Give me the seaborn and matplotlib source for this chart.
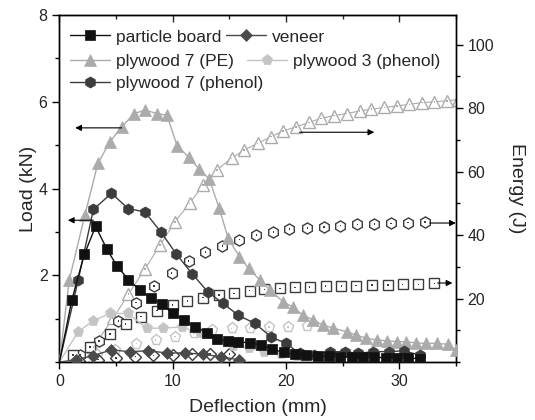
import numpy as np
import pandas as pd
import matplotlib
matplotlib.use("Agg")
import matplotlib.pyplot as plt
from matplotlib.ticker import MultipleLocator
from matplotlib.legend import Legend
import seaborn as sns

# ---------------- data ----------------
pb_x = [0, 1.1, 2.2, 3.2, 4.2, 5.1, 6.1, 7.1, 8.1, 9.1, 10.0, 11.0, 12.0, 13.0, 13.9, 14.9, 15.8, 16.8,
        17.8, 18.8, 19.8, 20.8, 21.8, 22.8, 23.8, 24.8, 25.8, 26.8, 27.8, 28.8, 29.8, 30.8, 31.8]
pb_load = [0, 1.43, 2.48, 3.13, 2.60, 2.21, 1.90, 1.66, 1.48, 1.34, 1.12, 0.97, 0.81, 0.68, 0.52, 0.49, 0.47,
           0.44, 0.40, 0.30, 0.22, 0.18, 0.16, 0.14, 0.13, 0.12, 0.12, 0.11, 0.11, 0.10, 0.10, 0.09, 0.08]

ven_x = [0, 1.5, 3.0, 4.6, 6.2, 7.8, 9.5, 11.1, 12.7, 14.3, 15.9]
ven_load = [0, 0.05, 0.15, 0.28, 0.24, 0.26, 0.21, 0.21, 0.18, 0.12, 0.05]

pe_x = [0, 0.87, 2.25, 3.4, 4.46, 5.5, 6.6, 7.6, 8.6, 9.5, 10.4, 11.4, 12.3, 13.2, 14.1, 14.9, 15.9, 16.7,
        17.7, 18.6, 19.75, 20.6, 21.5, 22.4, 23.3, 24.2, 25.35, 26.2, 27.1, 28.0, 28.9, 29.8, 30.6, 31.5,
        32.4, 33.3, 34.3, 35.0]
pe_load = [0, 1.89, 3.39, 4.58, 5.08, 5.42, 5.73, 5.81, 5.73, 5.69, 4.98, 4.73, 4.46, 4.23, 3.56, 2.85, 2.43,
           2.16, 1.89, 1.66, 1.39, 1.27, 1.08, 0.97, 0.85, 0.78, 0.70, 0.62, 0.55, 0.51, 0.49, 0.47, 0.47,
           0.44, 0.43, 0.43, 0.41, 0.28]

p3_x = [0, 1.66, 3.0, 4.46, 6.07, 7.7, 9.16, 10.8, 12.4, 13.9, 15.3, 16.7, 18.1, 19.6, 21.0]
p3_load = [0, 0.70, 0.95, 1.12, 1.12, 0.78, 0.78, 0.81, 0.66, 0.50, 0.38, 0.32, 0.24, 0.18, 0.12]

p7_x = [0, 1.66, 3.0, 4.6, 6.07, 7.55, 8.96, 10.3, 11.7, 13.1, 14.45, 15.8, 17.25, 18.7, 20.0, 21.2,
        22.5, 23.9, 25.2, 26.4, 27.7, 29.1, 30.4, 31.8]
p7_load = [0, 1.89, 3.52, 3.89, 3.54, 3.46, 3.0, 2.5, 2.04, 1.62, 1.35, 1.08, 0.89, 0.58, 0.43, 0.2,
           0.16, 0.24, 0.24, 0.2, 0.24, 0.24, 0.26, 0.16]

# energy curves (right axis)
pe_ex = [1.5, 3.0, 4.75, 6.1, 7.55, 8.9, 10.2, 11.5, 12.7, 13.9, 15.2, 16.3, 17.5, 18.7, 19.75, 20.9,
         22.05, 23.1, 24.25, 25.35, 26.5, 27.55, 28.7, 29.8, 30.9, 32.0, 33.1, 34.2, 35.2]
pe_energy = [0.5, 4.8, 13.8, 21.4, 29.3, 36.9, 44.2, 50, 55.8, 60.5, 64.2, 66.8, 68.9, 71, 72.8, 74.1,
             75.5, 76.8, 77.6, 78.3, 79.1, 79.7, 80.2, 80.7, 81.2, 81.7, 82.0, 82.3, 82.7]

p7_ex = [1.8, 3.5, 5.2, 6.75, 8.37, 9.9, 11.4, 12.9, 14.4, 15.9, 17.4, 18.9, 20.3, 21.9, 23.35, 24.8,
         26.3, 27.8, 29.3, 30.8, 32.3]
p7_energy = [2.2, 6.7, 13, 18.7, 23.9, 28.1, 31.8, 34.7, 36.6, 38.6, 40, 41, 41.9, 42.3, 42.6, 43,
             43.4, 43.5, 43.7, 43.9, 44.2]

pb_ex = [1.2, 2.7, 4.45, 5.85, 7.2, 8.6, 10.0, 11.3, 12.7, 14.1, 15.4, 16.8, 18.1, 19.5, 20.8, 22.1,
         23.5, 24.9, 26.2, 27.6, 29.0, 30.3, 31.7, 33.1]
pb_energy = [2.2, 4.8, 8.8, 12, 14.3, 16.2, 18, 19.2, 20.3, 21.1, 21.6, 22.5, 22.9, 23.2, 23.5, 23.7,
             23.9, 24, 24.1, 24.2, 24.2, 24.5, 24.5, 24.8]

p3_ex = [1.6, 3.3, 4.9, 6.8, 8.5, 10.2, 11.9, 13.5, 15.2, 16.8, 18.5, 20.2, 21.9]
p3_energy = [0.5, 2.2, 3.8, 5.8, 6.9, 8, 9, 10, 10.6, 10.8, 11.1, 11.1, 11.3]

ven_ex = [1.7, 3.4, 5.0, 6.7, 8.3, 10.0, 11.7, 13.3, 15.0]
ven_energy = [0.3, 0.8, 1.2, 1.7, 2.1, 2.2, 2.4, 2.5, 2.5]

labels = ["particle board", "veneer", "plywood 7 (PE)", "plywood 3 (phenol)", "plywood 7 (phenol)"]
x_ticks = [0, 10, 20, 30]
load_ticks = [2, 4, 6, 8]
energy_ticks = [20, 40, 60, 80, 100]

# ---------------- style ----------------
sns.set_style("ticks")
plt.rcParams["font.family"] = ["Liberation Sans", "DejaVu Sans"]
plt.rcParams["font.size"] = 11.5

fig = plt.figure(figsize=(5.35, 4.2), dpi=100)
ax = fig.add_axes([0.111, 0.138, 0.741, 0.826])
ax2 = ax.twinx()

c_pb, c_ven, c_pe, c_p3, c_p7 = "#111111", "#4a4a4a", "#ababab", "#c4c4c4", "#3c3c3c"

# energy (open markers) on right axis
def energy(xs, ys, marker, ec, ms, line=False):
    d = pd.DataFrame({"x": xs, "y": ys})
    sns.lineplot(data=d, x="x", y="y", ax=ax2, marker=marker, markersize=ms,
                 markerfacecolor="white", markeredgecolor=ec, markeredgewidth=1.0,
                 color=ec, linewidth=0.8 if line else 0, zorder=2)
    sns.scatterplot(data=d, x="x", y="y", ax=ax2, marker="s", s=1.2, color=ec,
                    edgecolor="none", zorder=3)

energy(pe_ex, pe_energy, "^", c_pe, 8.5, line=True)
energy(p7_ex, p7_energy, "h", c_p7, 8)
energy(pb_ex, pb_energy, "s", c_p7, 7)
energy(p3_ex, p3_energy, "p", c_p3, 8)
energy(ven_ex, ven_energy, "D", c_p7, 6.5)

# load (filled markers) on left axis
handles = {}
def load(xs, ys, marker, c, ms, lab, z):
    d = pd.DataFrame({"x": xs, "y": ys})
    sns.lineplot(data=d, x="x", y="y", ax=ax, marker=marker, markersize=ms,
                 markerfacecolor=c, markeredgecolor=c, markeredgewidth=0.5,
                 color=c, linewidth=1.0, markevery=list(range(1, len(xs))),
                 label=lab, zorder=z)
    handles[lab] = ax.get_lines()[-1]

load(pe_x, pe_load, "^", c_pe, 8.5, labels[2], 3)
load(p3_x, p3_load, "p", c_p3, 8, labels[3], 3)
load(ven_x, ven_load, "D", c_ven, 6.5, labels[1], 4)
load(p7_x, p7_load, "h", c_p7, 8, labels[4], 5)
load(pb_x, pb_load, "s", c_pb, 6.5, labels[0], 6)

ax.set_zorder(ax2.get_zorder() + 1)
ax.patch.set_visible(False)

# axes
ax.set_xlim(0, 35)
ax.set_ylim(0, 8)
ax2.set_ylim(0, 109.3)
ax.set_xticks(x_ticks)
ax.xaxis.set_minor_locator(MultipleLocator(5))
ax.set_yticks(load_ticks)
ax.yaxis.set_minor_locator(MultipleLocator(1))
ax2.set_yticks(energy_ticks)
ax2.yaxis.set_minor_locator(MultipleLocator(10))
ax.tick_params(which="major", length=5, width=1, direction="out", labelsize=11.5, color="black")
ax.tick_params(which="minor", length=3, width=1, direction="out", color="black")
ax2.tick_params(which="major", length=5, width=1, direction="out", labelsize=11.5, color="black")
ax2.tick_params(which="minor", length=3, width=1, direction="out", color="black")
sec = ax.secondary_xaxis("top")
sec.set_xticks(x_ticks)
sec.xaxis.set_minor_locator(MultipleLocator(5))
sec.tick_params(which="both", direction="in", labeltop=False, length=5, width=1)
sec.tick_params(which="minor", length=3)

for a in (ax, ax2):
    for s in a.spines.values():
        s.set_color("black")
        s.set_linewidth(1.0)

ax.set_xlabel("Deflection (mm)", fontsize=14, labelpad=7)
ax.set_ylabel("Load (kN)", fontsize=14, labelpad=1)
ax2.set_ylabel("Energy (J)", fontsize=14, rotation=270, labelpad=22)

# arrows
ap = dict(arrowstyle="-|>", color="black", lw=0.8, mutation_scale=9, shrinkA=0, shrinkB=0)
ax.annotate("", xy=(1.4, 5.4), xytext=(5.5, 5.4), arrowprops=ap, zorder=10)
ax.annotate("", xy=(0.75, 3.27), xytext=(3.0, 3.27), arrowprops=ap, zorder=10)
ax2.annotate("", xy=(27.8, 72.4), xytext=(21.2, 72.4), arrowprops=ap)
ax2.annotate("", xy=(35.0, 43.8), xytext=(32.7, 43.8), arrowprops=ap)
ax2.annotate("", xy=(34.7, 24.9), xytext=(33.4, 24.9), arrowprops=ap)

if ax2.get_legend():
    ax2.get_legend().remove()
if ax.get_legend():
    ax.get_legend().remove()

# legend rows, laid out as flowing rows like the reference
rows = [([labels[0], labels[1]], 0.937, 0.3),
        ([labels[2], labels[3]], 0.867, 0.75),
        ([labels[4]], 0.804, 0.3)]
for names, yfrac, cs in rows:
    leg = Legend(ax, [handles[k] for k in names], names, ncol=len(names), loc="center left",
                 bbox_to_anchor=(0.026, yfrac), frameon=False, fontsize=12.5,
                 handlelength=2.3, columnspacing=cs, handletextpad=0.35,
                 borderpad=0, borderaxespad=0)
    ax.add_artist(leg)

fig.savefig("out.png", dpi=100)
